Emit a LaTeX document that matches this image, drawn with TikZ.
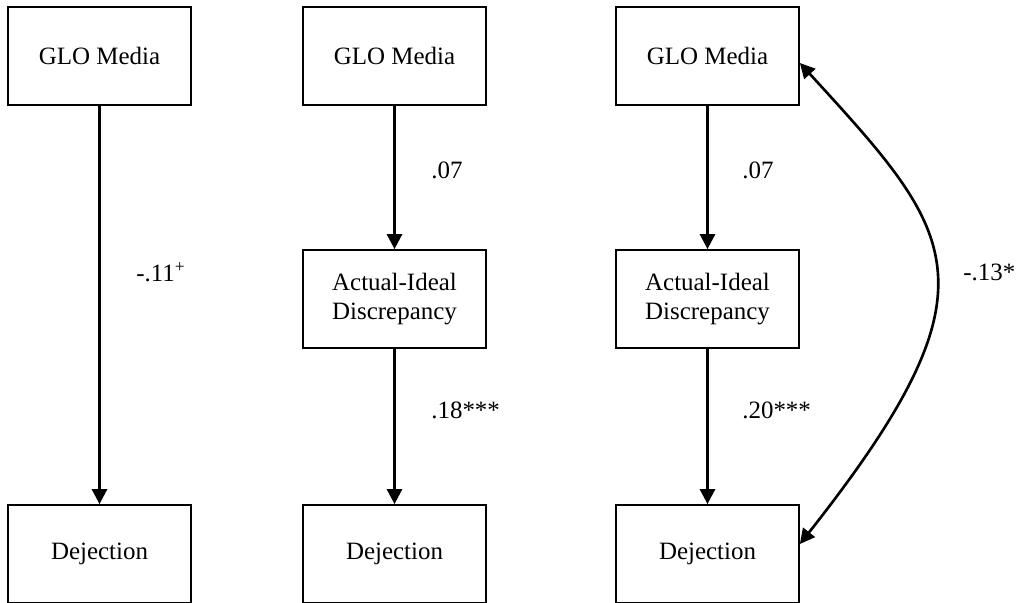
\documentclass[tikz,border=0pt]{standalone}
\usepackage{fontspec}
\setmainfont{Liberation Serif}
\usepackage{tikz}
\usetikzlibrary{arrows.meta}

\begin{document}
\begin{tikzpicture}[x=0.02cm, y=-0.02cm, line width=1.5pt,
    box/.style={rectangle, draw, line width=1pt, minimum width=3.66cm, minimum height=1.96cm, align=center, inner sep=2pt},
    coef/.style={anchor=west, inner sep=0pt},
    path/.style={-{Triangle[width=8.5pt,length=8.5pt]}},
    every node/.style={font=\fontsize{14.2}{17}\selectfont}]
    \useasboundingbox (0,0) rectangle (1028,602);
    \foreach \i/\x in {1/99.5, 2/394.5, 3/707.5} {
        \node[box] (glo\i) at (\x,56) {GLO Media};
        \node[box] (dej\i) at (\x,554) {Dejection};
    }
    \node[box] (aid2) at (394.5,299) {Actual-Ideal\\Discrepancy};
    \node[box] (aid3) at (707.5,299) {Actual-Ideal\\Discrepancy};
    \draw[path] (glo1) -- (dej1);
    \draw[path] (glo2) -- (aid2);
    \draw[path] (aid2) -- (dej2);
    \draw[path] (glo3) -- (aid3);
    \draw[path] (aid3) -- (dej3);
    \draw[{Triangle[width=8.5pt,length=8.5pt]}-{Triangle[width=8.5pt,length=8.5pt]}]
        ([yshift=-0.14cm]glo3.east) .. controls (956,234) and (1005,284) .. ([yshift=0.2cm]dej3.east);
    \node[coef] (c1) at (135,272) {-.11\textsuperscript{+}};
    \node[coef] (c2) at (430,170) {.07};
    \node[coef] (c3) at (430,410) {.18***};
    \node[coef] (c4) at (741,170) {.07};
    \node[coef] (c5) at (741,410) {.20***};
    \node[coef] (c6) at (962,272) {-.13*};
\end{tikzpicture}
\end{document}
